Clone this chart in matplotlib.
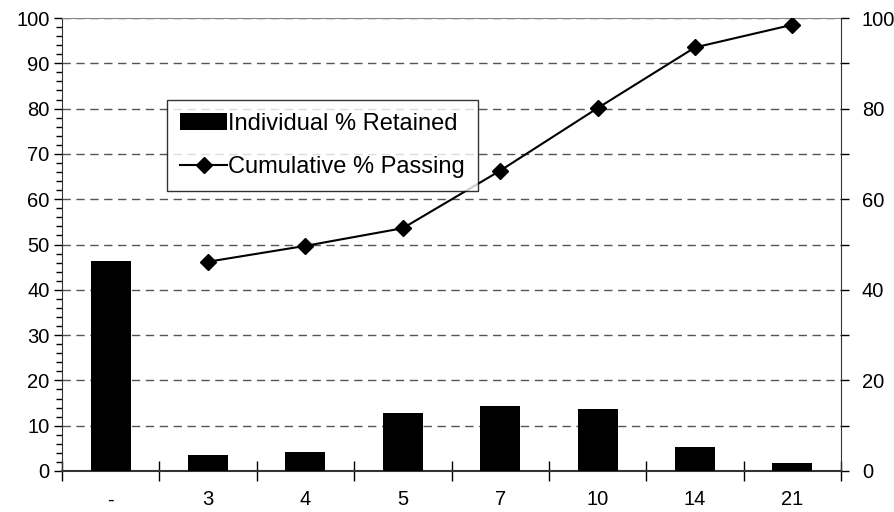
import matplotlib.pyplot as plt
from matplotlib.ticker import MultipleLocator, FixedLocator

plt.rcParams['font.family'] = ['Liberation Sans', 'DejaVu Sans']

categories = ['-', '3', '4', '5', '7', '10', '14', '21']
retained = [46.4, 3.5, 4.3, 12.8, 14.3, 13.6, 5.2, 1.7]
passing_cats = ['3', '4', '5', '7', '10', '14', '21']
passing = [46.2, 49.7, 53.6, 66.3, 80.1, 93.5, 98.5]

fs = 14.5

fig = plt.figure(figsize=(8.95, 5.12), dpi=100)
ax = fig.add_axes([62 / 895, 1 - 471 / 512, (841 - 62) / 895, (471 - 18) / 512])

x = list(range(len(categories)))
bars = ax.bar(x, retained, width=0.41, color='black', label='Individual % Retained', zorder=3)
px = [categories.index(c) for c in passing_cats]
line, = ax.plot(px, passing, color='black', lw=1.5, marker='D', markersize=8,
                label='Cumulative % Passing', zorder=4)

ax.set_xlim(-0.5, len(categories) - 0.5)
ax.set_ylim(0, 100)
ax.set_xticks(x)
ax.set_xticklabels(categories, fontsize=fs)
ax.xaxis.set_minor_locator(FixedLocator([i - 0.5 for i in range(len(categories) + 1)]))
ax.tick_params(axis='x', which='major', length=0, pad=14)
ax.tick_params(axis='x', which='minor', length=15, direction='inout', width=1)

ax.yaxis.set_major_locator(MultipleLocator(10))
ax.yaxis.set_minor_locator(MultipleLocator(2))
ax.tick_params(axis='y', which='major', length=6, width=1, labelsize=fs, pad=3)
ax.tick_params(axis='y', which='minor', length=4, width=1)
ax.grid(axis='y', which='major', linestyle=(0, (6, 4)), color='#555555', lw=1, zorder=0)

ax.spines['top'].set_color('#888888')
ax.spines['right'].set_visible(False)
ax.spines['left'].set_color('#333333')
ax.spines['bottom'].set_color('#333333')
ax.spines['bottom'].set_linewidth(1.5)

ax2 = ax.twinx()
ax2.set_ylim(0, 100)
ax2.yaxis.set_major_locator(MultipleLocator(20))
ax2.yaxis.set_minor_locator(MultipleLocator(10))
ax2.tick_params(axis='y', which='major', length=6, width=1, labelsize=fs, pad=9)
ax2.tick_params(axis='y', which='minor', length=6, width=1)
for s in ['top', 'left', 'bottom']:
    ax2.spines[s].set_visible(False)
ax2.spines['right'].set_color('#333333')

leg = ax.legend([bars, line], ['Individual % Retained', 'Cumulative % Passing'],
                loc='upper left', bbox_to_anchor=((167 - 62) / 779, (471 - 100) / 453),
                fontsize=17, frameon=True, fancybox=False, edgecolor='black',
                handlelength=2.0, handleheight=0.7, borderpad=0.55, labelspacing=0.9,
                handletextpad=0.05, borderaxespad=0)
leg.get_frame().set_linewidth(1)

fig.savefig('out.png', dpi=100)
